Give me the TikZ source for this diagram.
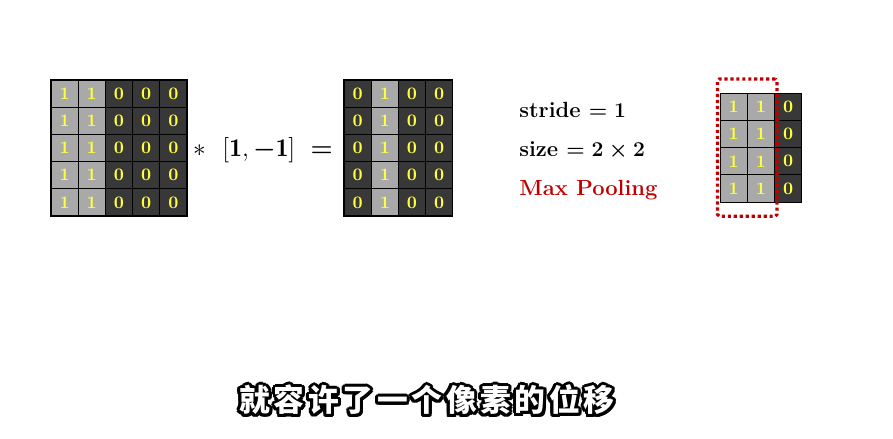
\documentclass[tikz,border=0pt]{standalone}
\usepackage{amsmath,amssymb}
\usepackage{fontspec}
\newfontfamily\cjk{Noto Sans CJK SC}[LetterSpace=12]
\usetikzlibrary{positioning,fit}
\definecolor{cellhi}{HTML}{A9A9A9}
\definecolor{celllo}{HTML}{383838}
\definecolor{digit}{HTML}{FFFF40}
\definecolor{poolred}{HTML}{C00000}
\newcommand\outlinetext[1]{%
  \foreach \a in {0,22.5,...,337.5}{%
    \pgfmathsetlengthmacro\dx{1.7pt*cos(\a)}%
    \pgfmathsetlengthmacro\dy{1.7pt*sin(\a)}%
    \rlap{\kern\dx\raisebox{\dy}{\color{black}#1}}}%
  {\color{white}#1}}

\begin{document}
\begin{tikzpicture}[
  x=0.02cm, y=-0.02cm,
  every node/.style={inner sep=0pt},
  cell/.style={draw=black, line width=0.6pt, minimum size=0.544cm,
               font=\bfseries\normalsize, text=digit},
  cellone/.style={cell, fill=cellhi},
  cellzero/.style={cell, fill=celllo},
  lbl/.style={font=\fontsize{12.5}{15}\selectfont\bfseries\boldmath, anchor=west},
  win/.style={draw=poolred, line width=1.8pt, dash pattern=on 1.8pt off 1.6pt,
              rounded corners=1pt, inner xsep=0.04cm, inner ysep=0.27cm},
  subt/.style={font=\cjk\bfseries\fontsize{17.5}{22}\selectfont}]

\useasboundingbox (0,0) rectangle (893,439);

% input: two bright columns on the left
\foreach \r in {1,...,5}
  \foreach \c in {1,...,5}{
    \ifnum\c<3 \def\kind{cellone}\def\val{1}\else\def\kind{cellzero}\def\val{0}\fi
    \node[\kind] (in-\r-\c) at ({51+27.2*(\c-0.5)},{80+27.2*(\r-0.5)}) {\val};
  }

% result of the [1,-1] filter
\foreach \r in {1,...,5}
  \foreach \c in {1,...,4}{
    \ifnum\c=2 \def\kind{cellone}\def\val{1}\else\def\kind{cellzero}\def\val{0}\fi
    \node[\kind] (out-\r-\c) at ({344+27.2*(\c-0.5)},{80+27.2*(\r-0.5)}) {\val};
  }

\node[font=\fontsize{14.5}{16}\selectfont] (op) at (263,150)
  {$*\ \ [\mathbf{1},\boldsymbol{-}\mathbf{1}]\ \boldsymbol{=}$};

% pooling parameters
\node[lbl] (stride) at (519,110) {stride $=1$};
\node[lbl] (size) at (519,150) {size $=2\times2$};
\node[lbl, text=poolred] (mode) at (519,190) {Max Pooling};

% pooled patch and its window
\foreach \r in {1,...,4}
  \foreach \c in {1,...,3}{
    \ifnum\c<3 \def\kind{cellone}\def\val{1}\else\def\kind{cellzero}\def\val{0}\fi
    \node[\kind] (pool-\r-\c) at ({720+27.3*(\c-0.5)},{93+27.3*(\r-0.5)}) {\val};
  }
\node[win, fit=(pool-1-1)(pool-4-2)] (window) {};

% subtitle
\node[subt] (sub) at (427,400) {\outlinetext{就容许了一个像素的位移}};

\end{tikzpicture}
\end{document}
